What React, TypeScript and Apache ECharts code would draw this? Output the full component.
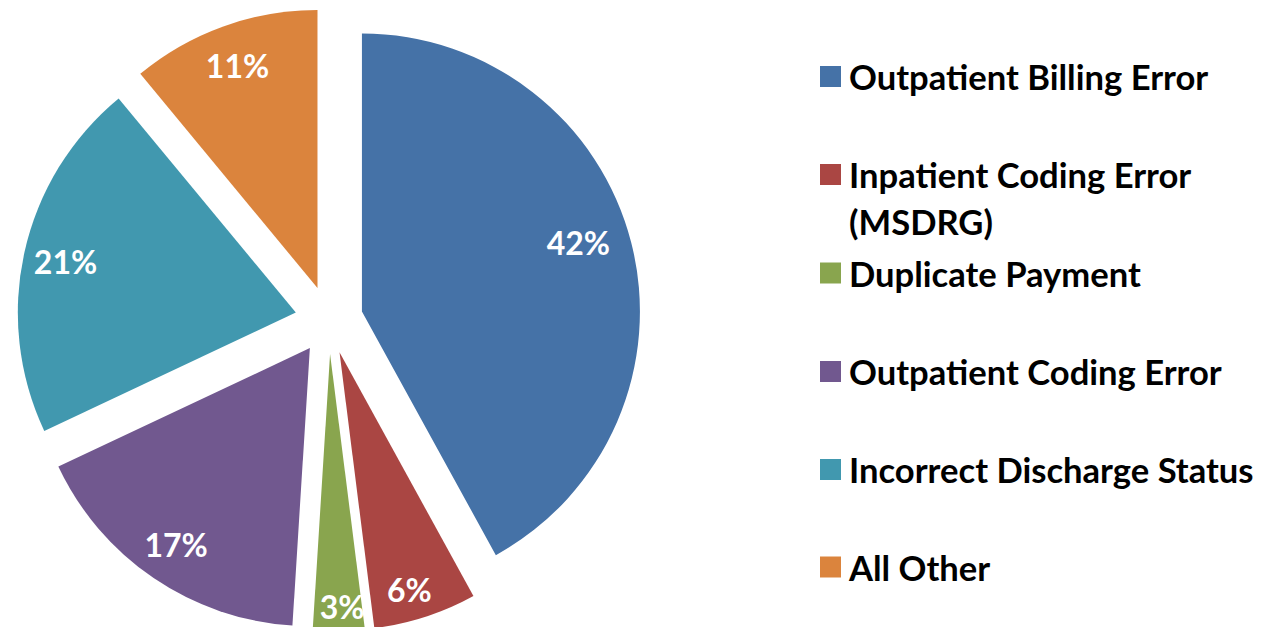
import React, { useEffect, useRef } from "react";
import * as echarts from "echarts";

const categories = [
  "Outpatient Billing Error",
  "Inpatient Coding Error (MSDRG)",
  "Duplicate Payment",
  "Outpatient Coding Error",
  "Incorrect Discharge Status",
  "All Other",
];
const legendLabels = [
  "Outpatient Billing Error",
  "Inpatient Coding Error\n(MSDRG)",
  "Duplicate Payment",
  "Outpatient Coding Error",
  "Incorrect Discharge Status",
  "All Other",
];
const values = [42, 6, 3, 17, 21, 11];
const colors = ["#4572A7", "#AA4643", "#89A54E", "#71588F", "#4198AF", "#DB843D"];

// layout: distance of each percentage label from its slice tip, and a small angular nudge (deg)
const labelRadius = [224, 244, 250, 235, 233, 233];
const labelNudge = [2.8, -1.4, 0.8, 0, 0, 0];

const FONT = "Lato";
const FS = 34.6;
const LFS = 32;
const LH = 47;
const R = 278;

export default function App() {
  const ref = useRef<HTMLDivElement>(null);
  useEffect(() => {
    if (!ref.current) return;
    const chart = echarts.init(ref.current, null, { renderer: "svg" });
    const center = [329, 320];
    const legendCenters = [76.5, 174.5, 273, 371.5, 469.5, 567];
    const legends = categories.map((name, i) => {
      const multi = legendLabels[i].includes("\n");
      const text = multi ? "\n" + legendLabels[i] : legendLabels[i];
      return {
        orient: "vertical",
        left: 820,
        top: multi ? legendCenters[i] - LH * 1.5 : legendCenters[i] - LH / 2,
        padding: 0,
        itemWidth: 21,
        itemHeight: 21,
        itemGap: 0,
        icon: "rect",
        selectedMode: false,
        data: [name],
        formatter: () => text,
        textStyle: {
          fontFamily: FONT,
          fontWeight: "bold",
          fontSize: FS,
          color: "#000",
          lineHeight: LH,
          padding: [0, 0, 0, 3],
        },
      };
    });
    const labelSeries = categories.map((_, i) => ({
      type: "pie",
      z: 5,
      center,
      radius: [2 * labelRadius[i] - R, R],
      startAngle: 90 + labelNudge[i],
      clockwise: true,
      silent: true,
      selectedMode: "multiple",
      selectedOffset: 34,
      itemStyle: { color: "rgba(0,0,0,0)" },
      labelLine: { show: false },
      emphasis: { disabled: true },
      data: categories.map((name, j) => ({
        name,
        value: values[j],
        selected: true,
        label: {
          show: j === i,
          position: "inside",
          formatter: "{c}%",
          color: "#fff",
          fontFamily: FONT,
          fontWeight: "bold",
          fontSize: LFS,
        },
      })),
    }));
    chart.setOption({
      animation: false,
      legend: legends,
      series: [
        {
          type: "pie",
          z: 2,
          center,
          radius: [0, R],
          startAngle: 90,
          clockwise: true,
          selectedMode: "multiple",
          selectedOffset: 34,
          label: { show: false },
          labelLine: { show: false },
          emphasis: { scale: false },
          data: categories.map((name, i) => ({
            name,
            value: values[i],
            selected: true,
            itemStyle: { color: colors[i] },
          })),
        },
        ...labelSeries,
      ],
    });
    return () => chart.dispose();
  }, []);
  return (
    <div
      ref={ref}
      style={{ position: "fixed", left: 0, top: 0, width: 1264, height: 627, background: "#fff" }}
    />
  );
}
